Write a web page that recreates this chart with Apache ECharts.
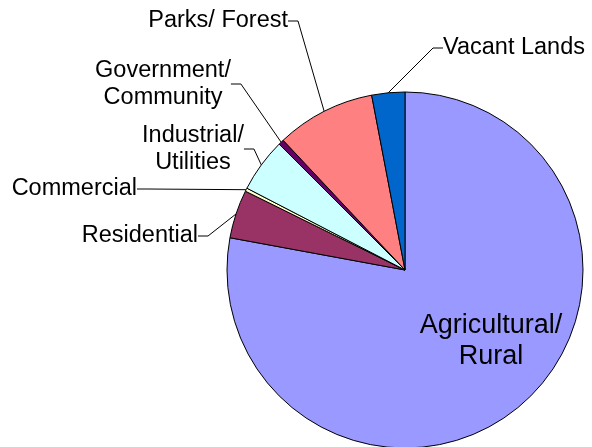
<!DOCTYPE html>
<html>
<head>
<meta charset="utf-8">
<script src="https://cdn.jsdelivr.net/npm/echarts@6/dist/echarts.min.js"></script>
<style>
  html, body { margin: 0; padding: 0; background: #fff; }
  #chart { width: 592px; height: 447px; }
</style>
</head>
<body>
<div id="chart"></div>
<script>
const categories = ['Agricultural/\nRural', 'Residential', 'Commercial', 'Industrial/\nUtilities',
  'Government/\nCommunity', 'Parks/ Forest', 'Vacant Lands'];
const shares = [77.9, 4.4, 0.3, 4.9, 0.5, 9.0, 3.0];
const colors = ['#9999ff', '#993366', '#ffffcc', '#ccffff', '#660066', '#ff8080', '#0066cc'];

// where each label box sits (anchor x, center y, alignment)
const labelSpots = [
  { x: 491, y: 341, align: 'center' },
  { x: 198, y: 236, align: 'right' },
  { x: 137, y: 189, align: 'right' },
  { x: 193, y: 149, align: 'center' },
  { x: 163, y: 84, align: 'center' },
  { x: 288, y: 21, align: 'right' },
  { x: 443, y: 48, align: 'left' }
];

const chart = echarts.init(document.getElementById('chart'));
chart.setOption({
  animation: false,
  series: [{
    type: 'pie',
    center: [405, 270],
    radius: 178,
    startAngle: 90,
    clockwise: true,
    data: categories.map((name, i) => ({
      name,
      value: shares[i],
      itemStyle: { color: colors[i] },
      label: i === 0 ? { position: 'inside', fontSize: 27, lineHeight: 31 } : {},
      labelLine: i === 0 ? { show: false } : {}
    })),
    itemStyle: { borderColor: '#000', borderWidth: 1 },
    label: {
      show: true,
      formatter: '{b}',
      color: '#000',
      fontFamily: 'Liberation Sans, Arial, sans-serif',
      fontSize: 23.5,
      lineHeight: 27
    },
    labelLine: {
      show: true,
      length: 10,
      length2: 10,
      lineStyle: { color: '#000', width: 1 }
    },
    labelLayout: function (params) {
      const s = labelSpots[params.dataIndex];
      return { x: s.x, y: s.y, align: s.align, verticalAlign: 'middle' };
    }
  }]
});
</script>
</body>
</html>
